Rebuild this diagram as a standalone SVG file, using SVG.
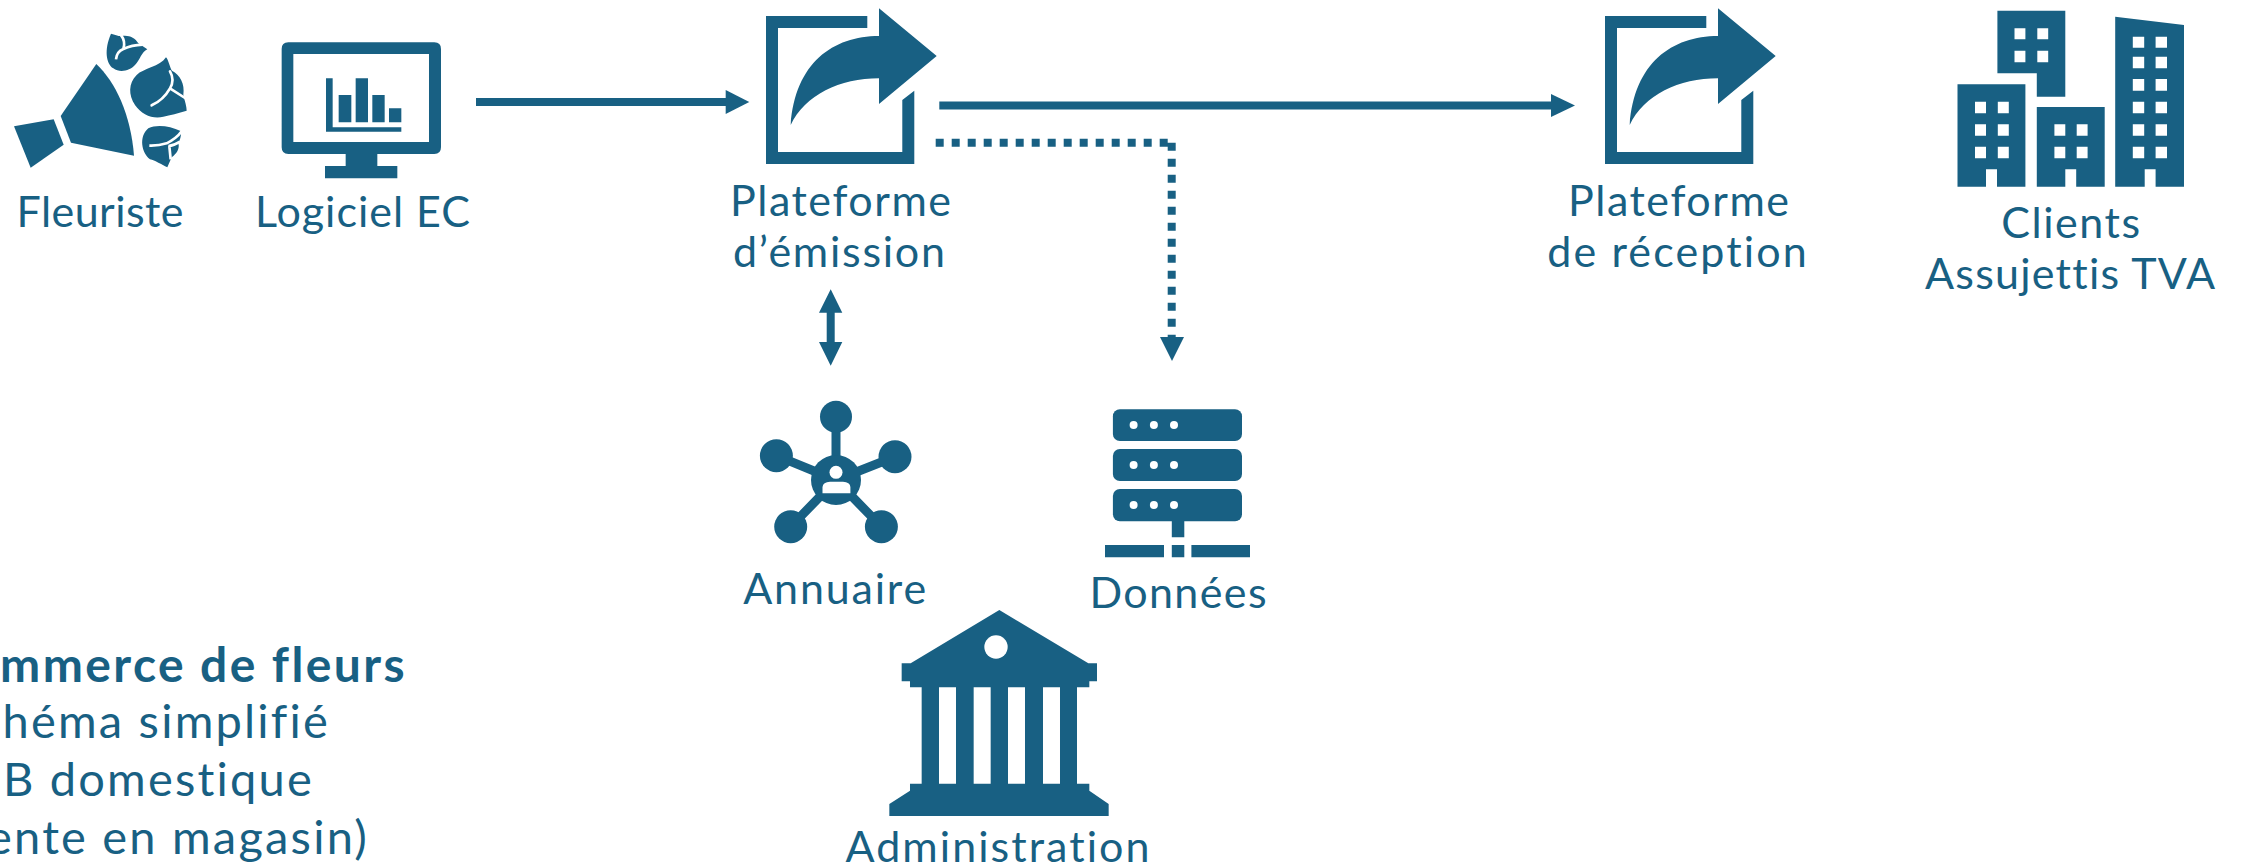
<svg xmlns="http://www.w3.org/2000/svg" xmlns:xlink="http://www.w3.org/1999/xlink" width="2245" height="866" viewBox="0 0 2245 866">
<style>
text{font-family:"Lato","Liberation Sans",sans-serif;font-size:43px;fill:#186083;font-variant-ligatures:none;font-feature-settings:"liga" 0}
.m{text-anchor:middle}.e{text-anchor:end;font-size:47px;letter-spacing:2.2px}.b{font-weight:700;font-size:48px;letter-spacing:2.4px}
.i{fill:#186083;stroke:none}.w{fill:#fff;stroke:none}
.c{fill:none;stroke:#186083;stroke-width:8}
.h{fill:#186083}
.g{fill:none;stroke:#fff;stroke-width:8}
</style>
<defs>
<path id="doc" class="i" fill-rule="evenodd" d="M766 16H867.3V28H778V152H902.3V100L914.3 90.7V164H766ZM879 8.3 936.7 56 879 104V78.3C840 78.3 805 95 790.7 125C795 63 833 36 879 36Z"/>
</defs>
<rect width="2245" height="866" fill="#fff"/>
<g id="connectors">
<path class="c" d="M476 102H727"/><path class="h" d="M725.7 90 749.3 102 725.7 114Z"/>
<path class="c" d="M939.3 105.5H1553"/><path class="h" d="M1551 94 1575 105.5 1551 117Z"/>
<path class="c" stroke-dasharray="8 8" d="M935.7 142.7H1168M1171.7 142.7V342"/><path class="h" d="M1160 337H1184L1172 361Z"/>
<path class="c" d="M830.7 311V344"/><path class="h" d="M819 312.7 830.7 289.3 842.3 312.7ZM819 342H842.3L830.7 365.7Z"/>
</g>
<g id="fleuriste">
<g transform="scale(.33333)">
<path class="i" d="M42 379 161 358 191 434 92 503Z"/>
<path class="i" d="M289 192C345 245 392 340 402 467L213 428 182 348Z"/>
<path class="i" d="M333 101C345 103 358 110 365 108C385 104 405 112 415 130L442 148C425 155 420 180 405 195C390 212 360 220 340 205C318 190 312 150 333 101Z"/>
<path class="g" d="M362 104Q378 125 370 147M348 178Q350 155 370 147Q395 135 428 134"/>
<path class="i" d="M498 172C505 178 510 205 516 212C540 225 555 250 550 285C555 305 560 320 560 332C535 340 510 345 490 350C460 358 425 345 405 315C385 285 385 250 410 225C430 205 480 200 498 172Z"/>
<path class="g" stroke-linecap="round" d="M455 316Q490 300 510 265L555 294M510 214Q525 240 510 265"/>
<path class="i" d="M445 385C470 372 510 378 542 393C545 405 540 420 535 430C540 445 530 462 515 472L502 502C485 495 465 480 450 478C425 460 415 410 445 385Z"/>
<path class="g" d="M545 394Q530 415 500 430Q475 438 448 437M540 425Q522 437 505 438M508 438 512 478"/>
</g>
<text class="m" x="100" y="227" textLength="167">Fleuriste</text>
</g>
<g id="logiciel-ec">
<g class="i" transform="scale(.33333)">
<path fill-rule="evenodd" d="M865 127H1303Q1323 127 1323 147V442Q1323 462 1303 462H1132V498H1192V535H975V498H1037V462H865Q845 462 845 442V147Q845 127 865 127ZM880 162V426H1287V162ZM978 235H998V382H1204V395H978ZM1016 285H1054V367H1016ZM1067 235H1104V367H1067ZM1117 285H1154V367H1117ZM1167 325H1204V367H1167Z"/>
</g>
<text class="m" x="362.5" y="227" textLength="215">Logiciel EC</text>
</g>
<g id="plateforme-emission">
<use xlink:href="#doc" href="#doc"/>
<text class="m" x="840.5" y="215.7" textLength="221">Plateforme</text>
<text class="m" x="839" y="266.7" textLength="212">d’émission</text>
</g>
<g id="plateforme-reception">
<use xlink:href="#doc" href="#doc" x="839"/>
<text class="m" x="1678.5" y="215.7" textLength="221">Plateforme</text>
<text class="m" x="1677" y="266.7" textLength="259.5">de réception</text>
</g>
<g id="clients">
<path class="i" fill-rule="evenodd" d="M1997.4 10.7H2065.3V96.7H2036.8V73.3H1997.4ZM2014.5 28.3V39.3H2025.4V28.3ZM2037.3 28.3V39.3H2048.2V28.3ZM2014.5 50.7V62.3H2025.4V50.7ZM2037.3 50.7V62.3H2048.2V50.7Z"/>
<path class="i" fill-rule="evenodd" d="M1957.5 84.3H2025.4V186.7H1997V169.3H1986V186.7H1957.5ZM1975 101.7V113.3H1986V101.7ZM1997.8 101.7V113.3H2008.8V101.7ZM1975 124.3V135.7H1986V124.3ZM1997.8 124.3V135.7H2008.8V124.3ZM1975 146.7V158.3H1986V146.7ZM1997.8 146.7V158.3H2008.8V146.7Z"/>
<path class="i" fill-rule="evenodd" d="M2036.8 107H2104.7V186.7H2076.2V169.3H2065.3V186.7H2036.8ZM2054.4 124.3V135.7H2065.3V124.3ZM2076.7 124.3V135.7H2087.6V124.3ZM2054.4 146.7V158.3H2065.3V146.7ZM2076.7 146.7V158.3H2087.6V146.7Z"/>
<path class="i" fill-rule="evenodd" d="M2115.2 16.7 2184 25V186.7H2155.6V169.3H2144.7V186.7H2115.2ZM2132.8 36.7V47.7H2144.2V36.7ZM2155.6 36.7V47.7H2167V36.7ZM2132.8 56.7V68.3H2144.2V56.7ZM2155.6 56.7V68.3H2167V56.7ZM2132.8 79V90.7H2144.2V79ZM2155.6 79V90.7H2167V79ZM2132.8 101.7V113.3H2144.2V101.7ZM2155.6 101.7V113.3H2167V101.7ZM2132.8 124.3V135.7H2144.2V124.3ZM2155.6 124.3V135.7H2167V124.3ZM2132.8 146.7V158.3H2144.2V146.7ZM2155.6 146.7V158.3H2167V146.7Z"/>
<text class="m" x="2070.7" y="238" textLength="139">Clients</text>
<text class="m" x="2070" y="289" textLength="290">Assujettis TVA</text>
</g>
<g id="annuaire">
<path d="M836 416.7V480M776.4 455.7 836 480M895 456.7 836 480M790.7 526.7 836 480M881.4 526.7 836 480" fill="none" stroke="#186083" stroke-width="9"/>
<circle class="i" cx="836" cy="480" r="25"/>
<circle class="i" cx="836" cy="416.7" r="16"/>
<circle class="i" cx="776.4" cy="455.7" r="16.5"/>
<circle class="i" cx="895" cy="456.7" r="16.5"/>
<circle class="i" cx="790.7" cy="526.7" r="16.5"/>
<circle class="i" cx="881.4" cy="526.7" r="16.5"/>
<circle class="w" cx="836" cy="472.3" r="6.5"/>
<path class="w" d="M822.5 493.3V487Q823 482 830 481.7H843Q850 482 850.4 487V493.3Z"/>
<text class="m" x="834.7" y="604" textLength="183">Annuaire</text>
</g>
<g id="donnees">
<rect class="i" x="1112.9" y="409.3" width="129.1" height="31.7" rx="7"/>
<rect class="i" x="1112.9" y="449" width="129.1" height="32" rx="7"/>
<rect class="i" x="1112.9" y="489" width="129.1" height="32.3" rx="7"/>
<path class="i" d="M1171.8 520H1184.3V537.3H1171.8ZM1105 545H1164V557.3H1105ZM1171.8 545H1184.3V557.3H1171.8ZM1191.4 545H1250V557.3H1191.4Z"/>
<g class="w"><circle cx="1133.6" cy="425" r="4"/><circle cx="1153.9" cy="425" r="4"/><circle cx="1174" cy="425" r="4"/><circle cx="1133.6" cy="465" r="4"/><circle cx="1153.9" cy="465" r="4"/><circle cx="1174" cy="465" r="4"/><circle cx="1133.6" cy="505" r="4"/><circle cx="1153.9" cy="505" r="4"/><circle cx="1174" cy="505" r="4"/></g>
<text class="m" x="1178" y="608" textLength="177">Données</text>
</g>
<g id="administration">
<g transform="translate(860 600) scale(.33333)">
<path class="i" fill-rule="evenodd" d="M418 30 685 190H711V244H688V262H651V551H688V572L746 612V648H88V612L150 572V551H185V262H150V244H125V190H152ZM237 262V551H288V262ZM341 262V551H392V262ZM444 262V551H495V262ZM549 262V551H600V262Z"/>
<circle class="w" cx="408" cy="141" r="35"/>
</g>
<text class="m" x="997.5" y="861.7" textLength="304">Administration</text>
</g>
<g id="legende">
<text class="e b" x="407" y="681.7">Commerce de fleurs</text>
<text class="e" x="330" y="738">Schéma simplifié</text>
<text class="e" x="314" y="796">B2B domestique</text>
<text class="e" x="369" y="854">(vente en magasin)</text>
</g>
</svg>
